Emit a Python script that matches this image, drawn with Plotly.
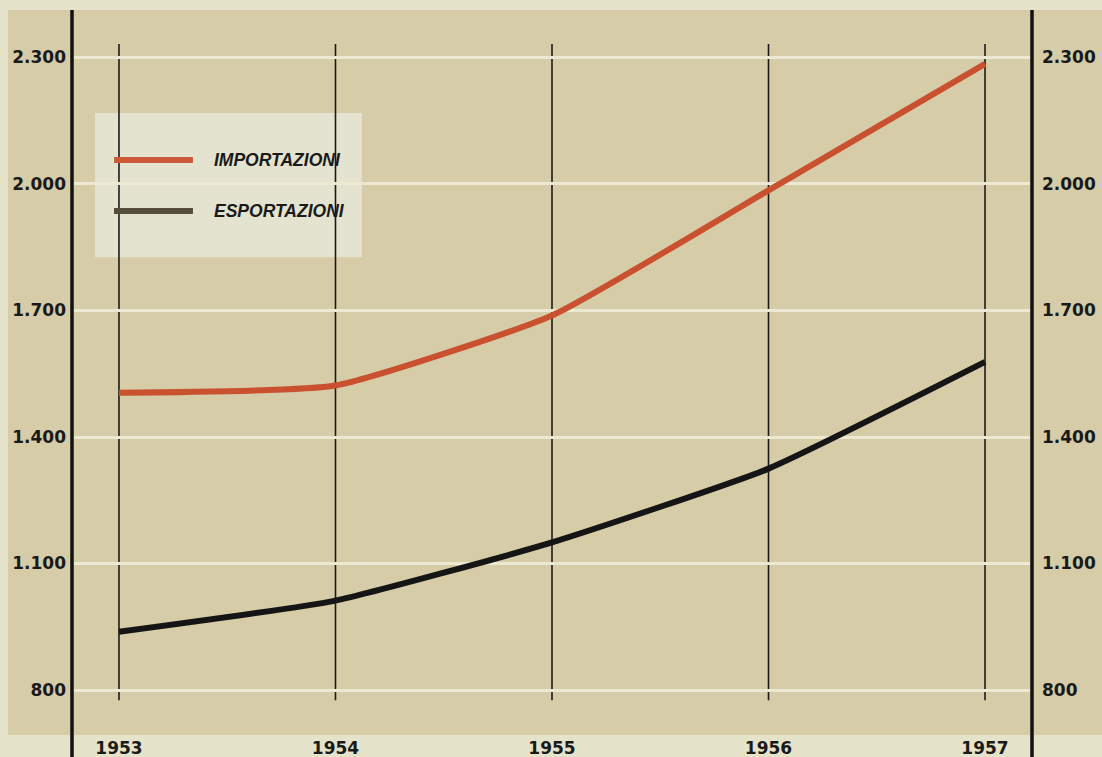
import plotly.graph_objects as go

years = [1953, 1954, 1955, 1956, 1957]
importazioni = [1505, 1522, 1688, 1985, 2285]
esportazioni = [938, 1012, 1150, 1325, 1578]
y_ticks = [800, 1100, 1400, 1700, 2000, 2300]
series_names = ["IMPORTAZIONI", "ESPORTAZIONI"]

TAN = "#d6cca8"
LIGHT = "#e5e3c9"
RED = "#c9512f"
BLACK = "#151515"

fig = go.Figure()
fig.add_trace(go.Scatter(x=years, y=importazioni, mode="lines", name=series_names[0],
                         line=dict(color=RED, width=6, shape="spline", smoothing=0.45)))
fig.add_trace(go.Scatter(x=years, y=esportazioni, mode="lines", name=series_names[1],
                         line=dict(color=BLACK, width=6, shape="spline", smoothing=0.45)))
# invisible trace to anchor the right axis
fig.add_trace(go.Scatter(x=[years[0]], y=[y_ticks[0]], yaxis="y2", mode="markers",
                         marker=dict(opacity=0), showlegend=False, hoverinfo="skip"))

yr = [693.3, 2412.6]
tickfont = dict(family="DejaVu Sans", size=17, color="#1a1a1a", weight="bold")

shapes = []
# lighter strips around the tan sheet
shapes.append(dict(type="rect", xref="paper", yref="paper", x0=-0.1, x1=1.1, y0=-0.05, y1=0,
                   fillcolor=LIGHT, line=dict(width=0), layer="below"))
shapes.append(dict(type="rect", xref="paper", yref="paper", x0=-0.1, x1=1.1, y0=1.0, y1=1.02,
                   fillcolor=LIGHT, line=dict(width=0), layer="below"))
shapes.append(dict(type="rect", xref="paper", yref="paper", x0=-0.08, x1=-0.0667, y0=-0.05, y1=1.02,
                   fillcolor=LIGHT, line=dict(width=0), layer="below"))
# vertical year lines
for yv in years:
    shapes.append(dict(type="line", xref="x", yref="y", x0=yv, x1=yv, y0=776, y1=2332,
                       line=dict(color="#1a1a1a", width=1.6), layer="below"))
# legend box
shapes.append(dict(type="rect", xref="paper", yref="paper", x0=0.024, x1=0.302, y0=0.659, y1=0.858,
                   fillcolor="#e3e3cf", line=dict(width=0), layer="below"))
shapes.append(dict(type="line", xref="paper", yref="paper", x0=0.0438, x1=0.126, y0=0.793, y1=0.793,
                   line=dict(color="#cc5a38", width=6)))
shapes.append(dict(type="line", xref="paper", yref="paper", x0=0.0438, x1=0.126, y0=0.7228, y1=0.7228,
                   line=dict(color="#554c3c", width=6)))
# main axis lines
for xp in [0, 1]:
    shapes.append(dict(type="line", xref="paper", yref="paper", x0=xp, x1=xp, y0=-0.05, y1=1.0,
                       line=dict(color="#111111", width=3.5)))

annotations = []
for name, yp in zip(series_names, [0.793, 0.7228]):
    annotations.append(dict(xref="paper", yref="paper", x=0.1458, y=yp, text=name, showarrow=False,
                            xanchor="left", yanchor="middle",
                            font=dict(family="Liberation Sans", size=17.5, color="#1a1a1a",
                                      style="italic", weight="bold")))

fig.update_layout(
    width=1102, height=757,
    margin=dict(l=72, r=70, t=10, b=22, autoexpand=False),
    paper_bgcolor=TAN, plot_bgcolor=TAN,
    separators=",.",
    showlegend=False,
    shapes=shapes,
    annotations=annotations,
    xaxis=dict(range=[1952.783, 1957.217], tickvals=years, ticktext=[str(y) for y in years],
               showgrid=False, zeroline=False, showline=False, ticks="", tickfont=tickfont,
               ticklabelstandoff=1, automargin=False),
    yaxis=dict(range=yr, tickvals=y_ticks, tickformat=",d", showgrid=True, gridcolor="#ece8d2",
               gridwidth=3, zeroline=False, showline=False, ticks="", tickfont=tickfont,
               ticklabelstandoff=5, automargin=False),
    yaxis2=dict(range=yr, tickvals=y_ticks, tickformat=",d", overlaying="y", side="right",
                showgrid=False, zeroline=False, showline=False, ticks="", tickfont=tickfont,
                ticklabelstandoff=9, automargin=False),
)

fig.write_html("out.html", config={"displayModeBar": False},
               post_script="document.body.style.margin='0';document.body.style.background='#e5e3c9';")
